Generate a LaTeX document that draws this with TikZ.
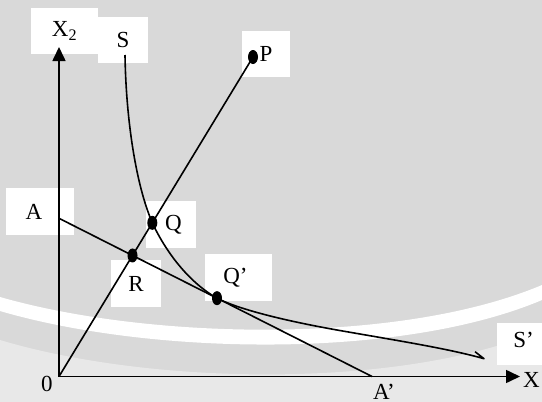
\documentclass[tikz,border=0pt]{standalone}
\usepackage{fontspec}
\setmainfont{Liberation Serif}
\usetikzlibrary{arrows.meta,shapes.geometric,calc}
\definecolor{wmgray}{RGB}{217,217,217}
\definecolor{wmlight}{RGB}{232,232,232}
\begin{document}
\begin{tikzpicture}[x=1pt,y=-1pt,
  lbl/.style={fill=white,inner sep=0pt,font=\fontsize{23}{27}\selectfont},
  txt/.style={inner sep=0pt,font=\fontsize{23}{27}\selectfont},
  ln/.style={line width=1.6pt},
  dotn/.style={ellipse,fill=black,inner sep=0pt,minimum width=10pt,minimum height=14pt},
  axisline/.style={line width=1.6pt,-{Triangle[length=14pt,width=13pt]}}]
\useasboundingbox (0,0) rectangle (542,402);
% watermark background
\fill[wmgray] (0,0) rectangle (542,402);
\fill[wmlight] (0,340) .. controls (150,385) and (400,390) .. (542,330) -- (542,402) -- (0,402) -- cycle;
\fill[white] (0,297) .. controls (150,340) and (400,345) .. (542,285) -- (542,300) .. controls (400,360) and (150,355) .. (0,311) -- cycle;
% label boxes
\node[lbl,minimum width=67pt,minimum height=46pt] (lX2) at (64.5,31) {X\textsubscript{2}};
\node[lbl,minimum width=50pt,minimum height=46pt] (lS) at (123,40) {S};
\node[lbl,minimum width=48pt,minimum height=46pt] (lP) at (266,54) {P};
\node[lbl,minimum width=68pt,minimum height=47pt] (lA) at (40,211.5) {A\hspace*{12pt}};
\node[lbl,minimum width=50pt,minimum height=47pt] (lQ) at (171,224.5) {\hspace*{5pt}Q};
\node[lbl,minimum width=50pt,minimum height=47pt] (lR) at (136,283.5) {R};
\node[lbl,minimum width=67pt,minimum height=47pt] (lQp) at (238.5,277.5) {Q’\hspace*{6pt}};
\node[lbl,minimum width=45pt,minimum height=42pt] (lSp) at (519.5,344) {\raisebox{8pt}{\hspace*{8pt}S’}};
\node[txt] (l0) at (47,384) {0};
\node[txt] (lX) at (531.5,380) {X};
\node[txt] (lAp) at (384,392) {A’};
% coordinates
\coordinate (O) at (59,376.5);
\coordinate (Ytip) at (59,47);
\coordinate (Xtip) at (520,376.5);
\coordinate (A0) at (59,218.3);
\coordinate (A1) at (372,376.5);
\coordinate (P) at (253,57);
\coordinate (R) at (intersection of O--P and A0--A1);
\coordinate (Q) at ($(O)!0.481!(P)$);
\coordinate (Qp) at ($(A0)!0.5048!(A1)$);
\coordinate (Stop) at (125,55);
\coordinate (Send) at (484,358.7);
\coordinate (Shook) at (475,351.7);
% lines
\draw[axisline] (O) -- (Ytip);
\draw[axisline] (O) -- (Xtip);
\draw[ln] (O) -- (P);
\draw[ln] (A0) -- (A1);
\draw[ln,line join=round] (Stop) .. controls (126,120) and (136,185) .. (Q)
  .. controls (163,246) and (185,280) .. (Qp)
  .. controls (240,310) and (290,322) .. (346.7,331.7)
  .. controls (400,341) and (450,349) .. (Send) -- (Shook);
% dots
\node[dotn] (Pd) at (P) {};
\node[dotn] (Qd) at (Q) {};
\node[dotn] (Rd) at (R) {};
\node[dotn] (Qpd) at (Qp) {};
\end{tikzpicture}
\end{document}
